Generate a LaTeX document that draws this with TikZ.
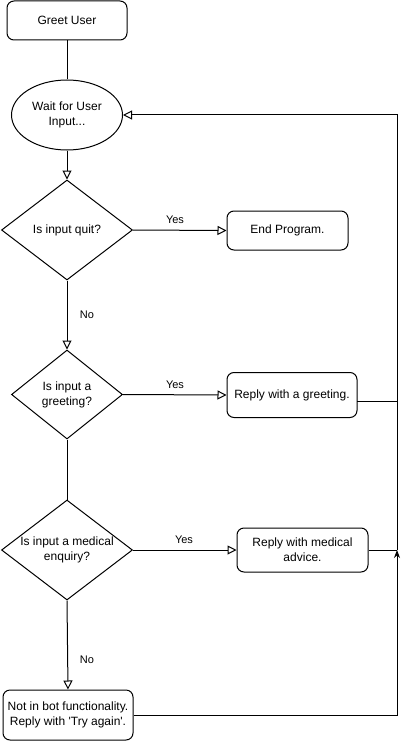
\documentclass[tikz,border=0pt]{standalone}
\usepackage{fontspec}
\setmainfont{Liberation Sans}
\usetikzlibrary{shapes.geometric,arrows.meta}
\begin{document}
\begin{tikzpicture}[x=1pt,y=-1pt,line width=1pt,
  txt/.style={font=\fontsize{12}{15}\selectfont,align=center,inner sep=0pt},
  box/.style={draw,rounded corners=7pt,txt},
  ell/.style={draw,ellipse,txt},
  dia/.style={draw,diamond,inner sep=0pt},
  lbl/.style={font=\fontsize{11}{13}\selectfont,inner sep=0pt},
  oarr/.style={-{Triangle[open,length=9pt,width=9pt,fill=white]}},
  farr/.style={-{Stealth[length=8pt,width=6pt]}}]
\useasboundingbox (0,0) rectangle (408,741);

\node[box,minimum width=120,minimum height=39] (greet) at (67,20.5) {Greet User};
\node[ell,minimum width=111,minimum height=70] (wait) at (67,115) {Wait for User\\Input...};
\node[dia,minimum width=131,minimum height=100] (d1) at (67,230) {};
\node[txt] (d1t) at (d1) {Is input quit?};
\node[box,minimum width=121,minimum height=39] (end) at (287.5,230.5) {End Program.};
\node[dia,minimum width=111,minimum height=89] (d2) at (67,394.5) {};
\node[txt] (d2t) at (d2) {Is input a\\greeting?};
\node[box,minimum width=130,minimum height=45] (greply) at (292,395) {Reply with a greeting.};
\node[dia,minimum width=131,minimum height=100] (d3) at (67,550) {};
\node[txt] (d3t) at (d3) {Is input a medical\\enquiry?};
\node[box,minimum width=131,minimum height=44] (med) at (302.5,550) {Reply with medical\\advice.};
\node[box,minimum width=130,minimum height=50] (notin) at (68,715) {Not in bot functionality.\\Reply with \textquotesingle Try again\textquotesingle.};

\coordinate (j) at (397,550);
\coordinate (gr) at (357,401);

\node[lbl] (y1) at (175,220) {Yes};
\node[lbl] (n1) at (87,315) {No};
\node[lbl] (y2) at (175,385) {Yes};
\node[lbl] (y3) at (184,540) {Yes};
\node[lbl] (n3) at (87,660) {No};

\draw (greet.south) -- (wait.north);
\draw[oarr] (wait.south) -- (d1.north);
\draw[oarr] (d1.east) -- (end.west);
\draw[oarr] (d1.south) -- (d2.north);
\draw[oarr] (d2.east) -- (greply.west);
\draw (d2.south) -- (d3.north);
\draw[oarr] (d3.east) -- (med.west);
\draw[oarr] (d3.south) -- (notin.north);
\draw (gr) -- (gr -| j);
\draw (med.east) -- (j);
\draw[farr] (notin.east) -| (j);
\draw[oarr] (j) |- (wait.east);
\end{tikzpicture}
\end{document}
